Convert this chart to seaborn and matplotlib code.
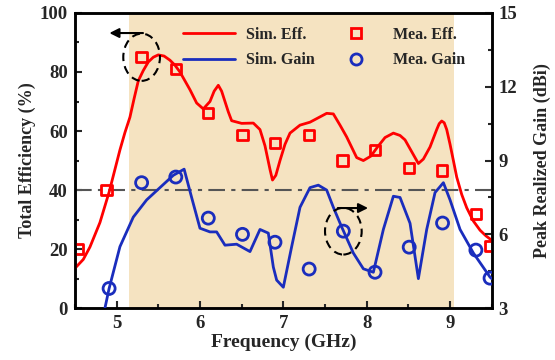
import numpy as np
import pandas as pd
import matplotlib
matplotlib.use("Agg")
import matplotlib.pyplot as plt
import seaborn as sns
from matplotlib.lines import Line2D
from matplotlib.patches import Ellipse

# Simulated total efficiency (%)
sim_eff_freq = [4.5, 4.6, 4.68, 4.8, 4.91, 5.04, 5.1, 5.16, 5.21, 5.26, 5.32, 5.38, 5.44,
                5.5, 5.57, 5.64, 5.7, 5.76, 5.82, 5.88,
                5.96, 6.04, 6.12, 6.17, 6.22, 6.26, 6.3, 6.34, 6.38, 6.5, 6.64, 6.72, 6.78,
                6.81, 6.84, 6.87,
                6.91, 6.96, 7.02, 7.08, 7.2, 7.32, 7.42, 7.52, 7.6, 7.68, 7.76, 7.88,
                7.96, 8.05, 8.13, 8.22, 8.32, 8.4, 8.46, 8.54, 8.62, 8.68, 8.76, 8.84,
                8.87, 8.9, 8.93, 8.96, 9.0, 9.04, 9.08, 9.14, 9.2, 9.28, 9.36, 9.43, 9.5]
sim_eff = [13.5, 16.5, 20.7, 29, 39.3, 53.6, 59.5, 64.7, 71, 77, 80.5, 83.4, 85,
           85.8, 85.4, 84, 82.3, 80, 77, 74,
           69.5, 67.5, 70, 73.5, 75.5, 73.5, 70, 66.5, 63.5, 62.6, 62.7, 60.5, 55,
           51, 47, 43.4,
           45, 50, 55.5, 59.3, 62, 63, 64.5, 66, 65.8, 62, 58, 51,
           50, 51.5, 54.6, 57.8, 59.3, 58.5, 57, 53, 49, 50.5, 54.6, 60.5,
           62.5, 63.4, 62.8, 60.5, 55.5, 50, 44.4, 38.5, 34, 29.5, 26.4, 24.5, 23]

# Simulated peak realized gain (dBi)
sim_gain_freq = [4.86, 4.91, 5.04, 5.2, 5.36, 5.52, 5.68, 5.81, 5.9, 6.0, 6.12, 6.2,
                 6.3, 6.44, 6.6, 6.72, 6.82, 6.88, 6.92, 7.0, 7.1, 7.2, 7.32, 7.42,
                 7.52, 7.6, 7.7, 7.84, 7.96, 8.08, 8.2, 8.32, 8.4, 8.52, 8.62, 8.72,
                 8.82, 8.92, 9.0, 9.12, 9.28, 9.48, 9.5]
sim_gain = [3.0, 3.8, 5.5, 6.7, 7.4, 7.9, 8.4, 8.65, 7.5, 6.25, 6.1, 6.1,
            5.56, 5.6, 5.3, 6.2, 6.05, 4.67, 4.14, 3.85, 5.5, 7.1, 7.9, 8.0,
            7.8, 7.1, 6.3, 5.24, 4.6, 4.46, 6.2, 7.55, 7.5, 6.45, 4.2, 6.2,
            7.7, 8.1, 7.4, 6.2, 5.24, 4.26, 4.2]

# Measured data
mea_freq = [4.53, 4.88, 5.3, 5.71, 6.1, 6.51, 6.9, 7.31, 7.71, 8.1, 8.51, 8.9, 9.31, 9.48]
mea_eff = [20, 40, 85, 81, 66, 58.6, 56, 58.6, 50, 53.6, 47.4, 46.6, 32, 21]
mea_gain_freq = [4.91, 5.3, 5.71, 6.1, 6.51, 6.9, 7.31, 7.72, 8.1, 8.51, 8.91, 9.31, 9.48]
mea_gain = [3.8, 8.1, 8.33, 6.66, 6.0, 5.68, 4.59, 6.13, 4.46, 5.48, 6.46, 5.36, 4.22]

red = "#ff0000"
blue = "#1a2dbd"

sns.set_style("ticks")
plt.rcParams['font.family'] = ['Liberation Serif', 'DejaVu Serif']
plt.rcParams['font.weight'] = 'bold'
plt.rcParams['axes.labelweight'] = 'bold'

fig = plt.figure(figsize=(5.55, 3.6), dpi=100)
ax = fig.add_axes([0.135, 0.144, 0.751, 0.82])
ax2 = ax.twinx()

ax.axvspan(5.15, 9.05, color="#f5e3c1", lw=0, zorder=0)
ax.axhline(40, color="#555555", lw=1.5, ls=(0, (8, 3, 2, 3)), zorder=1)

sns.lineplot(x=sim_eff_freq, y=sim_eff, ax=ax, color=red, lw=2, sort=False, zorder=3,
             solid_joinstyle='round')
sns.scatterplot(x=mea_freq, y=mea_eff, ax=ax, marker="s", s=55, facecolor="none",
                edgecolor=red, linewidth=2, zorder=4)
sns.lineplot(x=sim_gain_freq, y=sim_gain, ax=ax2, color=blue, lw=2, sort=False, zorder=3,
             solid_joinstyle='round')
sns.scatterplot(x=mea_gain_freq, y=mea_gain, ax=ax2, marker="o", s=75, facecolor="none",
                edgecolor=blue, linewidth=2, zorder=4)

ax.set_xlim(4.5, 9.5)
ax.set_ylim(0, 100)
ax2.set_ylim(3, 15)
ax.set_xticks([5, 6, 7, 8, 9])
ax.set_xticks(np.arange(4.5, 9.6, 0.5), minor=True)
ax.set_yticks(range(0, 101, 20))
ax.set_yticks(range(10, 100, 20), minor=True)
ax2.set_yticks([3, 6, 9, 12, 15])
ax2.set_yticks([4.5, 7.5, 10.5, 13.5], minor=True)

for a in (ax, ax2):
    a.tick_params(which='both', direction='in', width=1.5, labelsize=13.5, pad=5)
    a.tick_params(which='major', length=5)
    a.tick_params(which='minor', length=3)
    for sp in a.spines.values():
        sp.set_linewidth(1.8)
        sp.set_color('black')
    for lab in a.get_xticklabels() + a.get_yticklabels():
        lab.set_fontweight('bold')
ax.tick_params(top=False, right=False)

ax.set_xlabel("Frequency (GHz)", fontsize=14, fontweight='bold', labelpad=1)
ax.set_ylabel("Total Efficiency (%)", fontsize=13, fontweight='bold', labelpad=3)
ax2.set_ylabel("Peak Realized Gain (dBi)", fontsize=13, fontweight='bold', labelpad=12)

# annotations
ax.add_patch(Ellipse((5.30, 85), 0.44, 16, fill=False, ls=(0, (4, 2.5)), lw=1.5, color='black', zorder=5))
ax.annotate('', xy=(4.88, 93.2), xytext=(5.35, 93.2),
            arrowprops=dict(arrowstyle='-|>', color='black', lw=1.5, mutation_scale=14))
ax2.add_patch(Ellipse((7.72, 6.13), 0.44, 1.9, fill=False, ls=(0, (4, 2.5)), lw=1.5, color='black', zorder=5))
ax2.annotate('', xy=(8.05, 7.07), xytext=(7.62, 7.07),
             arrowprops=dict(arrowstyle='-|>', color='black', lw=1.5, mutation_scale=14))

handles = [
    Line2D([], [], color=red, lw=2),
    Line2D([], [], color=blue, lw=2),
    Line2D([], [], ls='none', marker='s', ms=7, mfc='none', mec=red, mew=2),
    Line2D([], [], ls='none', marker='o', ms=8, mfc='none', mec=blue, mew=2),
]
labels = ["Sim. Eff.", "Sim. Gain", "Mea. Eff.", "Mea. Gain"]
ax2.legend(handles, labels, ncol=2, loc='upper left', bbox_to_anchor=(0.245, 0.975),
           frameon=False, prop={'size': 11.5, 'weight': 'bold'}, handlelength=3.2,
           handletextpad=0.7, columnspacing=1.0, labelspacing=0.6, borderaxespad=0)

fig.savefig("out.png", dpi=100)
